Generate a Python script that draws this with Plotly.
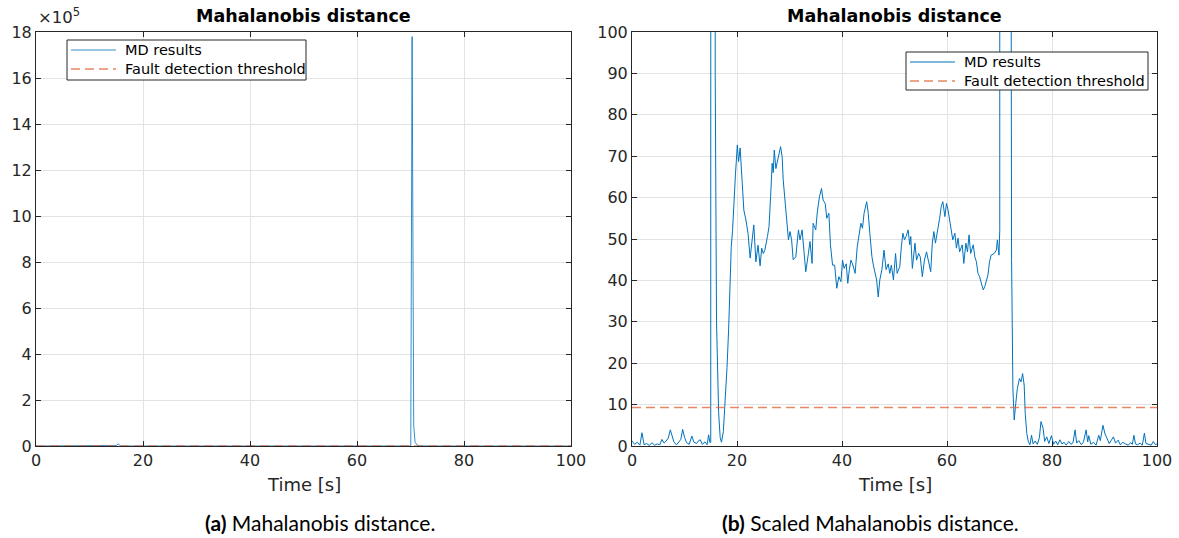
import plotly.graph_objects as go

# Mahalanobis distance over time (s) and the fault detection threshold
time_s = [
    0, 0.5, 1.0, 1.5, 1.9, 2.3, 2.8, 3.3, 3.8, 4.3, 4.8, 5.3, 5.7, 6.1, 6.5, 6.9,
    7.3, 7.6, 8.0, 8.5, 9.0, 9.3, 9.65, 10.0, 10.4, 10.9, 11.4, 11.8, 12.3, 12.7,
    13.0, 13.4, 13.9, 14.3, 14.6, 14.85, 15.0,
    15.1, 15.35, 15.6, 15.85, 16.1, 16.5, 16.8, 17.05, 17.4, 17.8, 18.1, 18.4,
    18.65, 18.9, 19.15, 19.4, 19.7, 20.06, 20.3, 20.6, 20.95, 21.3, 21.7, 22.1,
    22.5, 22.8, 23.2, 23.6, 24.0, 24.4, 24.7, 25.0, 25.3, 25.8, 26.1, 26.4, 26.7,
    26.9, 27.1, 27.4, 27.9, 28.1, 28.3, 28.6, 28.8, 29.3, 29.8, 30.1, 30.4, 30.7,
    31.2, 31.7, 32.0, 32.4, 32.8, 33.1, 33.6, 33.9, 34.3, 34.5, 35.0, 35.3, 35.7,
    36.1, 36.4, 36.8, 37.1, 37.5, 37.8, 38.2, 38.6, 39.0, 39.4, 39.8, 40.1, 40.4,
    40.8, 41.1, 41.4, 41.7, 42.0, 42.5, 42.9, 43.3, 43.6, 43.9, 44.2, 44.7, 45.0,
    45.3, 45.7, 46.0, 46.3, 46.6, 46.9, 47.2, 47.6, 48.0, 48.4, 48.8, 49.1, 49.4,
    49.8, 50.2, 50.5, 51.0, 51.3, 51.6, 51.9, 52.2, 52.6, 52.9, 53.1, 53.4, 53.9,
    54.2, 54.6, 54.9, 55.3, 55.7, 56.1, 56.5, 56.9, 57.2, 57.5, 57.8, 58.3, 58.6,
    58.9, 59.2, 59.6, 59.9, 60.2, 60.5, 60.8, 61.1, 61.5, 61.8, 62.1, 62.4, 62.9,
    63.2, 63.6, 63.9, 64.2, 64.5, 65.0, 65.3, 65.6, 65.9, 66.2, 66.5, 66.9, 67.2,
    67.5, 67.8, 68.1, 68.4, 69.0, 69.4, 69.6, 69.9,
    70.05, 70.3, 70.45, 70.6, 70.85, 71.3, 71.8, 72.1, 72.3, 72.55, 72.8, 73.1,
    73.4, 73.8, 74.1, 74.4, 74.7, 74.9, 75.2, 75.5,
    75.8, 76.1, 76.4, 76.8, 77.2, 77.6, 77.9, 78.3, 78.6, 79.0, 79.4, 79.9, 80.3,
    80.7, 81.1, 81.5, 81.9, 82.3, 82.7, 83.2, 83.6, 84.0, 84.4, 84.7, 85.1, 85.6,
    86.0, 86.5, 86.8, 87.0, 87.4, 87.9, 88.4, 88.9, 89.2, 89.7, 90.1, 90.5, 90.9,
    91.3, 91.7, 92.1, 92.6, 93.0, 93.5, 94.0, 94.5, 95.0, 95.3, 95.6, 95.9, 96.3,
    96.8, 97.2, 97.6, 97.9, 98.4, 98.9, 99.3, 99.7, 100.0,
]
md_values = [
    1.2, 0.4, 0.9, 0.2, 3.2, 0.3, 0.6, 0.1, 0.8, 0.2, 0.5, 0.3, 1.6, 0.7, 1.2, 1.9,
    3.9, 2.6, 0.9, 0.3, 1.1, 1.6, 4.0, 2.1, 0.8, 0.4, 2.4, 0.9, 0.6, 1.3,
    1.5, 0.4, 1.0, 0.3, 2.7, 0.8, 0.9,
    2600, 9500, 3500, 90, 30, 8, 2, 0.9, 3.5, 11, 19, 28,
    38, 48, 52, 59, 65.5, 72.7, 68.7, 72, 64, 57, 54.6, 51.4,
    45.4, 49, 53.4, 44.5, 48.5, 43.5, 47.8, 46.5, 47.3, 50.6, 53, 60.2, 68.3,
    66, 71.5, 67, 69.9, 71, 72.3, 69.9, 64.3, 57, 49.8, 51.8, 49.8, 45,
    45.7, 52.2, 49.8, 52.2, 45, 42.1, 46.5, 49.4, 44.1, 53.8, 52.2, 56.6, 60.2,
    62.2, 59.4, 58.6, 55, 56.2, 48.6, 43.7, 43.7, 38.1, 40.9, 39.7, 44.9, 42.9,
    44, 39.3, 42.6, 44.9, 44, 41.7, 48.1, 52.2, 53.8, 52.6, 56.2, 59, 56.2,
    51.4, 45.7, 43.5, 41.3, 40.1, 36, 40.1, 42.6, 47.3, 42.6, 44, 41.7, 43.7,
    40.1, 46.5, 41.7, 43.3, 48.1, 51.4, 49.8, 50.6, 52.2, 48.6, 50.6, 42.9, 49,
    44.9, 46.5, 45.7, 40.9, 44.9, 46.9, 44.1, 42.1, 49, 51.8, 49, 52.2, 55,
    57.8, 59, 55.4, 58.6, 57, 54.6, 52.6, 49.8, 51.4, 47.8, 50.2, 46.9, 48.6,
    44.1, 49, 46.9, 51, 46.5, 48.6, 45.7, 44.5, 41.7, 40.9, 39.3, 37.7, 38.5,
    39.7, 41.3, 44.5, 46.1, 46.5, 47.3, 49.8, 46.1,
    52, 1780000, 320000, 90000, 16000, 3200, 850, 210, 45, 14, 6.3, 10.3,
    13.9, 16.3, 15.5, 17.5, 14.7, 7.9, 3, 1,
    0.3, 2.6, 0.5, 1.2, 0.4, 2.0, 5.9, 4.3, 1.1, 2.2, 0.6, 2.5, 0.4,
    1.2, 0.3, 1.5, 0.5, 0.9, 0.2, 1.1, 0.4, 0.8, 3.9, 0.7, 1.3, 0.3,
    1.0, 3.9, 1.0, 2.5, 0.4, 0.9, 0.2, 2.6, 1.3, 5.0, 2.9, 1.8, 0.6,
    1.4, 2.2, 0.7, 1.4, 0.3, 0.9, 0.5, 0.2, 0.8, 0.4, 2.6, 0.5, 0.3,
    0.7, 0.2, 3.1, 0.6, 0.4, 0.2, 1.1, 0.3, 0.5,
]
threshold = 9.3

series_names = ["MD results", "Fault detection threshold"]
x_ticks = [0, 20, 40, 60, 80, 100]
left_y_ticks = [0, 2, 4, 6, 8, 10, 12, 14, 16, 18]          # in units of 1e5
right_y_ticks = [0, 10, 20, 30, 40, 50, 60, 70, 80, 90, 100]

W, H = 1179, 538
MD_COLOR = "#0072BD"
MD_COLOR_LIGHT = "rgba(0,114,189,0.8)"
TH_COLOR = "rgba(225,105,60,0.8)"
TH_DASH = "9px,5px"
AXIS_COLOR = "#262626"
GRID_COLOR = "#e3e3e3"
AX_FONT = "DejaVu Sans"


def px_x(p):
    return p / W


def px_y(p):
    return 1 - p / H


left_dom = [px_x(36), px_x(571)]
right_dom = [px_x(632), px_x(1157)]
y_dom = [px_y(446), px_y(32)]

fig = go.Figure()

t_line = [time_s[0], time_s[-1]]
th_line = [threshold, threshold]

# (a) full-scale distance
fig.add_trace(go.Scatter(x=time_s, y=md_values, mode="lines", name=series_names[0],
                         line=dict(color=MD_COLOR_LIGHT, width=1),
                         xaxis="x", yaxis="y"))
fig.add_trace(go.Scatter(x=t_line, y=th_line, mode="lines", name=series_names[1],
                         line=dict(color=TH_COLOR, width=1.5, dash=TH_DASH),
                         xaxis="x", yaxis="y"))

# (b) scaled distance
fig.add_trace(go.Scatter(x=time_s, y=md_values, mode="lines", name=series_names[0],
                         line=dict(color=MD_COLOR, width=1),
                         xaxis="x2", yaxis="y2"))
fig.add_trace(go.Scatter(x=t_line, y=th_line, mode="lines", name=series_names[1],
                         line=dict(color=TH_COLOR, width=1.5, dash=TH_DASH),
                         xaxis="x2", yaxis="y2"))

common_axis = dict(
    showline=True, linecolor=AXIS_COLOR, linewidth=1, mirror="ticks",
    ticks="inside", ticklen=5, tickcolor=AXIS_COLOR, tickwidth=1,
    showgrid=True, gridcolor=GRID_COLOR, gridwidth=1, zeroline=False,
    automargin=False,
    tickfont=dict(family=AX_FONT, size=16, color=AXIS_COLOR),
)

fig.update_layout(
    width=W, height=H,
    margin=dict(l=0, r=0, t=0, b=0, autoexpand=False),
    paper_bgcolor="white", plot_bgcolor="white",
    showlegend=False,
    xaxis=dict(domain=left_dom, range=[0, 100], tickvals=x_ticks,
               anchor="y", **common_axis),
    yaxis=dict(domain=y_dom, range=[0, 18e5],
               tickvals=[v * 1e5 for v in left_y_ticks],
               ticktext=[str(v) for v in left_y_ticks],
               anchor="x", **common_axis),
    xaxis2=dict(domain=right_dom, range=[0, 100], tickvals=x_ticks,
                anchor="y2", **common_axis),
    yaxis2=dict(domain=y_dom, range=[0, 100], tickvals=right_y_ticks,
                anchor="x2", **common_axis),
)

annotations = []
shapes = []

for cx in [(36 + 571) / 2, (632 + 1157) / 2]:
    annotations.append(dict(x=px_x(cx), y=px_y(16), xref="paper", yref="paper",
                            text="<b>Mahalanobis distance</b>", showarrow=False,
                            xanchor="center", yanchor="middle",
                            font=dict(family=AX_FONT, size=17.5, color="#000000")))
    annotations.append(dict(x=px_x(cx), y=px_y(484), xref="paper", yref="paper",
                            text="Time [s]", showarrow=False,
                            xanchor="center", yanchor="middle",
                            font=dict(family=AX_FONT, size=18, color=AXIS_COLOR)))


# legend box with one row per series
def add_legend(x0, y0, x1, y1, md_col):
    shapes.append(dict(type="rect", xref="paper", yref="paper",
                       x0=px_x(x0), x1=px_x(x1), y0=px_y(y1), y1=px_y(y0),
                       line=dict(color=AXIS_COLOR, width=1), fillcolor="white",
                       layer="above"))
    rows = [y0 + 10, y0 + 29]
    styles = [dict(color=md_col, width=1),
              dict(color=TH_COLOR, width=1.5, dash=TH_DASH)]
    for name, ry, st in zip(series_names, rows, styles):
        shapes.append(dict(type="line", xref="paper", yref="paper",
                           x0=px_x(x0 + 4), x1=px_x(x0 + 49),
                           y0=px_y(ry), y1=px_y(ry), line=st, layer="above"))
        annotations.append(dict(x=px_x(x0 + 56), y=px_y(ry), xref="paper",
                                yref="paper", text=name, showarrow=False,
                                xanchor="left", yanchor="middle",
                                font=dict(family=AX_FONT, size=14.5,
                                          color="#000000")))


add_legend(67, 40, 306, 80, MD_COLOR_LIGHT)
add_legend(906, 52, 1148, 90, MD_COLOR)

# exponent label of the left y axis
annotations.append(dict(x=px_x(36), y=px_y(29), xref="paper", yref="paper",
                        text="×10<sup>5</sup>", showarrow=False,
                        xanchor="left", yanchor="bottom",
                        font=dict(family=AX_FONT, size=16.5, color=AXIS_COLOR)))

# sub-figure captions
annotations.append(dict(x=px_x(320), y=px_y(522), xref="paper", yref="paper",
                        text="<b>(a)</b> Mahalanobis distance.", showarrow=False,
                        xanchor="center", yanchor="middle",
                        font=dict(family="Lato", size=21, color="#000000")))
annotations.append(dict(x=px_x(870), y=px_y(522), xref="paper", yref="paper",
                        text="<b>(b)</b> Scaled Mahalanobis distance.", showarrow=False,
                        xanchor="center", yanchor="middle",
                        font=dict(family="Lato", size=21, color="#000000")))

fig.update_layout(annotations=annotations, shapes=shapes)

fig.write_html("out.html")
